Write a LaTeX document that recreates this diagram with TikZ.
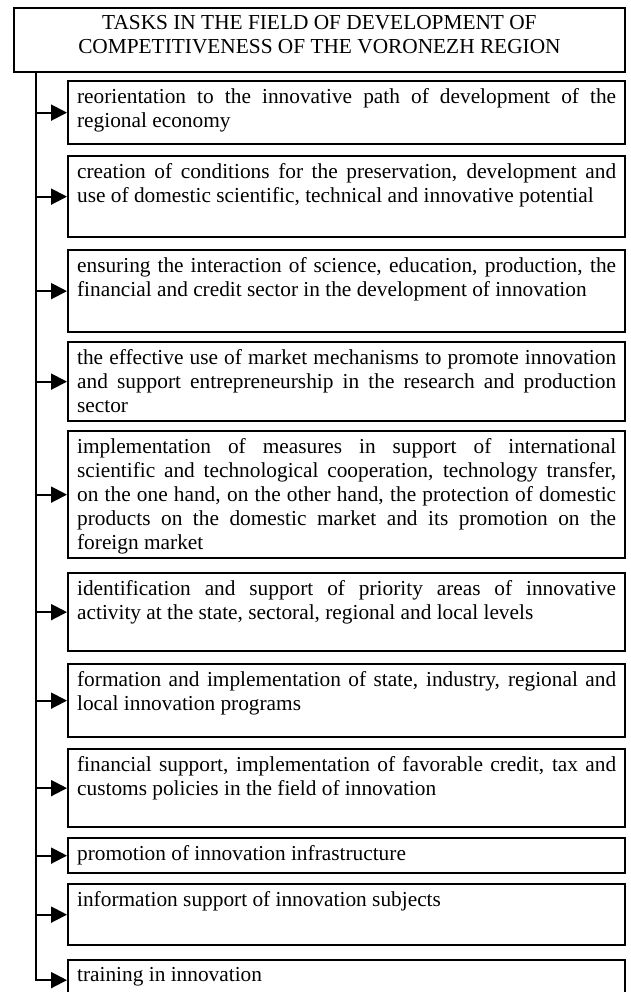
\documentclass[tikz,border=0pt]{standalone}
\usepackage{fontspec}
\setmainfont{Liberation Serif}
\usetikzlibrary{arrows.meta}
\newlength\pxu
\setlength\pxu{0.75pt}
\hyphenpenalty=10000
\tolerance=10000
\newcommand{\taskfont}{\fontsize{16pt}{18pt}\selectfont}
\newcommand{\tasktext}[2]{\parbox[t][#1\pxu][t]{539\pxu}{#2}}
\tikzset{
    task/.style={draw, line width=1.7pt, anchor=north west,
        inner xsep=6.75pt, inner ysep=5.25pt, font=\taskfont},
    feed/.style={line width=1.5pt, -{Triangle[length=12pt,width=12pt]}}
}
\begin{document}
\begin{tikzpicture}[x=0.75pt,y=-0.75pt]
            \useasboundingbox (0,0) rectangle (631,992);
            \node[task, line width=1.4pt] (head) at (13,7)
                {\parbox[t][50\pxu][t]{593\pxu}{\centering
                TASKS IN THE FIELD OF DEVELOPMENT OF\\
                COMPETITIVENESS OF THE VORONEZH REGION}};
            \node[task] (t1) at (67,80) {\tasktext{49}{reorientation to the innovative path of development of the\linebreak regional economy}};
            \node[task] (t2) at (67,155) {\tasktext{67}{creation of conditions for the preservation, development and\linebreak use of domestic scientific, technical and innovative potential}};
            \node[task] (t3) at (67,249) {\tasktext{68}{ensuring the interaction of science, education, production, the\linebreak financial and credit sector in the development of innovation}};
            \node[task] (t4) at (67,341) {\tasktext{65}{the effective use of market mechanisms to promote innovation\linebreak and support entrepreneurship in the research and production\linebreak sector}};
            \node[task] (t5) at (67,430) {\tasktext{113}{implementation of measures in support of international\linebreak scientific and technological cooperation, technology transfer,\linebreak on the one hand, on the other hand, the protection of domestic\linebreak products on the domestic market and its promotion on the\linebreak foreign market}};
            \node[task] (t6) at (67,572) {\tasktext{64}{identification and support of priority areas of innovative\linebreak activity at the state, sectoral, regional and local levels}};
            \node[task] (t7) at (67,663) {\tasktext{59}{formation and implementation of state, industry, regional and\linebreak local innovation programs}};
            \node[task] (t8) at (67,748) {\tasktext{64}{financial support, implementation of favorable credit, tax and\linebreak customs policies in the field of innovation}};
            \node[task] (t9) at (67,837) {\tasktext{21}{promotion of innovation infrastructure}};
            \node[task] (t10) at (67,883) {\tasktext{47}{information support of innovation subjects}};
            \node[task] (t11) at (67,959) {\tasktext{26}{training in innovation}};
            \coordinate (spine) at (36,71);
            \foreach \i in {1,...,10}
                \draw[feed] (spine |- t\i.west) -- (t\i.west);
            \draw[feed] (spine) |- (t11.west);
        \end{tikzpicture}
\end{document}
